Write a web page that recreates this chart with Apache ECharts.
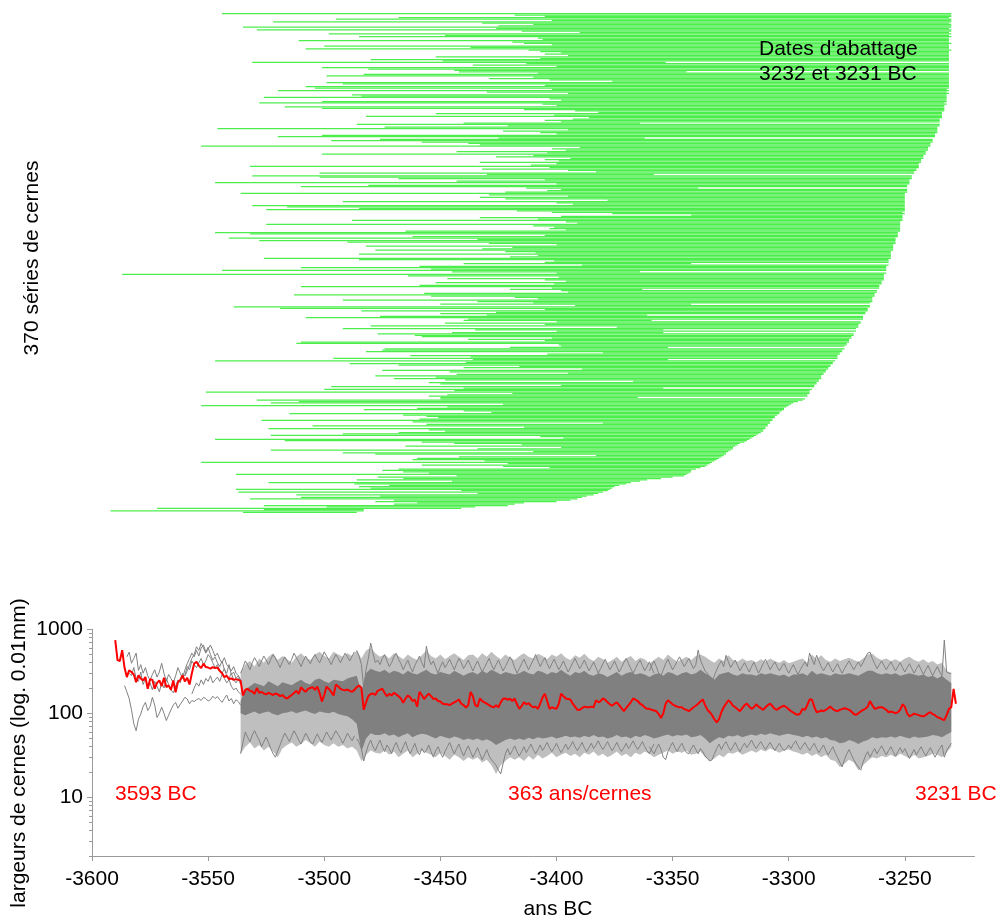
<!DOCTYPE html>
<html><head><meta charset="utf-8">
<script src="https://cdn.jsdelivr.net/npm/echarts@6/dist/echarts.min.js"></script>
<style>html,body{margin:0;padding:0;background:#fff}#c{width:1000px;height:920px}</style>
</head><body><div id="c"></div>
<script>
// ---------- tick labels ----------
const xTicks = [-3600,-3550,-3500,-3450,-3400,-3350,-3300,-3250];
const yTicks = [10,100,1000];
const yMinorTicks = [2,3,4,5,6,7,8,9,20,30,40,50,60,70,80,90,200,300,400,500,600,700,800,900];

// ---------- top panel: 370 ring series (first and last year, row 0 = top) ----------
const barStart = [
-3544,-3418,-3405,-3468,-3495,-3402,-3522,-3432,-3410,-3425,
-3535,-3426,-3529,-3415,-3390,-3498,-3448,-3485,-3408,-3406,
-3511,-3419,-3414,-3402,-3500,-3437,-3508,-3412,-3407,-3398,
-3405,-3395,-3452,-3407,-3480,-3449,-3531,-3413,-3436,-3400,
-3501,-3481,-3444,-3442,-3408,-3483,-3499,-3410,-3429,-3403,
-3376,-3499,-3492,-3405,-3508,-3504,-3402,-3520,-3430,-3395,
-3488,-3484,-3526,-3403,-3398,-3501,-3528,-3406,-3400,-3517,
-3501,-3414,-3392,-3382,-3452,-3401,-3482,-3386,-3393,-3405,
-3398,-3440,-3486,-3421,-3474,-3546,-3395,-3423,-3407,-3400,
-3501,-3520,-3425,-3476,-3497,-3458,-3438,-3433,-3553,-3390,
-3402,-3396,-3443,-3404,-3501,-3410,-3426,-3394,-3405,-3399,
-3433,-3400,-3411,-3532,-3403,-3432,-3395,-3383,-3502,-3430,
-3531,-3502,-3468,-3405,-3443,-3547,-3400,-3481,-3510,-3413,
-3398,-3404,-3422,-3536,-3429,-3395,-3433,-3422,-3378,-3492,
-3400,-3393,-3531,-3516,-3485,-3525,-3417,-3402,-3376,-3342,
-3398,-3433,-3408,-3488,-3396,-3391,-3525,-3410,-3401,-3403,
-3396,-3465,-3547,-3532,-3405,-3462,-3541,-3434,-3528,-3490,
-3429,-3400,-3482,-3419,-3432,-3478,-3422,-3409,-3485,-3408,
-3420,-3526,-3485,-3401,-3405,-3440,-3389,-3459,-3510,-3454,
-3544,-3445,-3400,-3587,-3464,-3399,-3447,-3405,-3396,-3452,
-3401,-3459,-3510,-3402,-3420,-3398,-3395,-3457,-3513,-3454,
-3418,-3408,-3492,-3434,-3410,-3450,-3392,-3539,-3519,-3405,
-3484,-3426,-3450,-3430,-3476,-3508,-3438,-3440,-3400,-3448,
-3405,-3480,-3374,-3492,-3435,-3400,-3445,-3477,-3461,-3458,
-3402,-3438,-3405,-3510,-3512,-3399,-3398,-3420,-3474,-3475,
-3482,-3380,-3404,-3463,-3437,-3496,-3436,-3547,-3439,-3489,
-3468,-3416,-3440,-3389,-3475,-3446,-3395,-3443,-3478,-3452,
-3470,-3448,-3367,-3455,-3450,-3398,-3497,-3440,-3500,-3444,
-3551,-3419,-3447,-3455,-3450,-3450,-3529,-3511,-3523,-3423,
-3553,-3447,-3460,-3483,-3440,-3428,-3515,-3466,-3456,-3451,
-3459,-3527,-3462,-3380,-3456,-3505,-3414,-3524,-3455,-3448,
-3468,-3492,-3523,-3407,-3397,-3547,-3517,-3458,-3444,-3415,
-3465,-3398,-3434,-3523,-3410,-3492,-3478,-3383,-3442,-3460,
-3462,-3431,-3553,-3421,-3458,-3423,-3403,-3468,-3475,-3466,
-3455,-3538,-3443,-3477,-3466,-3486,-3445,-3524,-3487,-3472,
-3485,-3480,-3538,-3441,-3537,-3434,-3512,-3476,-3510,-3532,
-3470,-3478,-3460,-3470,-3526,-3499,-3572,-3526,-3592,-3535];
const barEnd = [
-3230,-3230,-3230,-3231,-3230,-3230,-3230,-3231,-3230,-3230,
-3230,-3231,-3230,-3230,-3231,-3230,-3231,-3230,-3231,-3231,
-3231,-3231,-3230,-3231,-3231,-3231,-3231,-3230,-3231,-3231,
-3231,-3231,-3231,-3231,-3231,-3231,-3353,-3231,-3231,-3231,
-3231,-3231,-3231,-3344,-3231,-3231,-3231,-3231,-3231,-3231,
-3231,-3231,-3231,-3231,-3231,-3231,-3232,-3231,-3232,-3231,
-3232,-3232,-3232,-3232,-3232,-3232,-3233,-3232,-3233,-3233,
-3233,-3233,-3233,-3234,-3234,-3234,-3234,-3234,-3235,-3235,
-3235,-3364,-3235,-3235,-3236,-3236,-3236,-3236,-3236,-3237,
-3237,-3237,-3362,-3238,-3238,-3238,-3239,-3239,-3239,-3240,
-3240,-3240,-3241,-3241,-3241,-3242,-3242,-3242,-3243,-3243,
-3243,-3244,-3244,-3244,-3244,-3245,-3245,-3246,-3246,-3358,
-3247,-3247,-3247,-3248,-3248,-3248,-3248,-3249,-3249,-3339,
-3249,-3249,-3249,-3250,-3250,-3250,-3250,-3250,-3250,-3250,
-3250,-3250,-3250,-3250,-3250,-3250,-3250,-3251,-3250,-3251,
-3251,-3251,-3251,-3251,-3252,-3252,-3252,-3252,-3252,-3252,
-3252,-3252,-3253,-3253,-3253,-3253,-3254,-3254,-3254,-3254,
-3254,-3255,-3255,-3255,-3255,-3255,-3256,-3256,-3256,-3256,
-3256,-3256,-3257,-3257,-3257,-3342,-3257,-3258,-3258,-3258,
-3258,-3364,-3258,-3259,-3259,-3259,-3259,-3259,-3260,-3260,
-3260,-3261,-3261,-3261,-3363,-3262,-3262,-3263,-3263,-3263,
-3264,-3264,-3264,-3264,-3265,-3342,-3265,-3265,-3266,-3266,
-3266,-3267,-3267,-3361,-3268,-3268,-3268,-3359,-3269,-3269,
-3270,-3270,-3270,-3271,-3354,-3271,-3354,-3272,-3272,-3273,
-3273,-3274,-3274,-3274,-3275,-3275,-3276,-3352,-3276,-3277,
-3277,-3278,-3278,-3279,-3279,-3279,-3352,-3280,-3281,-3281,
-3282,-3282,-3283,-3283,-3284,-3284,-3285,-3285,-3286,-3286,
-3286,-3287,-3287,-3288,-3288,-3289,-3289,-3354,-3290,-3291,
-3291,-3291,-3292,-3292,-3365,-3293,-3294,-3296,-3298,-3299,
-3300,-3301,-3302,-3302,-3303,-3304,-3304,-3305,-3306,-3306,
-3307,-3307,-3308,-3308,-3309,-3309,-3310,-3310,-3311,-3311,
-3312,-3313,-3314,-3315,-3316,-3317,-3318,-3319,-3321,-3322,
-3323,-3324,-3324,-3325,-3326,-3327,-3327,-3328,-3329,-3330,
-3331,-3332,-3333,-3334,-3335,-3336,-3338,-3340,-3342,-3342,
-3343,-3344,-3345,-3350,-3355,-3361,-3364,-3368,-3370,-3373,
-3375,-3376,-3377,-3378,-3380,-3382,-3384,-3387,-3389,-3391,
-3394,-3400,-3414,-3418,-3421,-3435,-3441,-3483,-3483,-3486];

// ---------- bottom panel: mean curve (red), 363 years ----------
const meanStart = -3590;
const meanValues = [
745,430,420,565,350,270,324,310,290,235,
283,260,246,270,196,255,250,196,230,246,
210,265,205,215,190,246,178,235,250,283,
240,265,220,300,391,410,370,345,390,355,
350,340,355,345,350,320,300,270,280,255,
260,250,255,250,245,163,190,196,185,182,
170,200,175,180,172,168,175,170,165,172,
168,160,165,155,150,158,165,175,185,170,
204,190,180,195,200,205,190,208,175,138,
165,208,195,180,163,219,210,195,190,188,
192,185,180,190,205,214,200,110,135,160,
170,172,165,185,190,196,175,160,170,163,
175,168,160,150,133,150,163,155,140,145,
120,180,165,148,160,171,160,148,150,140,
138,130,128,128,125,130,135,140,146,130,
125,117,125,180,160,125,120,150,140,135,
130,125,120,118,125,118,135,149,150,145,
149,140,150,128,113,122,135,128,132,123,
118,120,113,130,155,171,140,113,118,115,
113,130,171,160,150,148,146,130,120,110,
110,115,120,118,118,120,118,143,135,140,
150,145,135,128,123,130,135,125,115,106,
115,125,135,150,145,140,130,125,118,113,
113,110,108,106,98,88,100,130,143,135,
128,123,120,118,118,112,110,106,112,118,
123,130,138,146,125,110,103,95,85,78,
85,103,118,130,143,135,123,118,112,106,
115,125,130,120,113,118,128,120,115,110,
118,125,130,122,113,110,116,120,123,118,
112,106,102,98,96,100,113,110,125,146,
146,120,103,105,108,106,110,115,120,112,
108,106,110,112,115,113,110,105,98,96,
100,105,110,113,120,140,125,113,115,118,
118,115,110,103,105,103,100,103,110,128,
120,100,92,95,99,97,95,93,92,95,
100,103,98,95,90,88,85,83,95,113,
118,195,130];

// ---------- bottom panel: grey bundle of series (every 2 years from -3536) ----------
const bandStart = -3536, bandStep = 2;
const outerHi = [
300,380,420,360,450,400,470,520,430,480,
440,400,470,520,460,430,500,540,480,450,
540,500,470,520,480,560,450,560,600,520,
470,500,450,520,480,440,500,460,430,490,
560,480,450,500,440,480,520,470,430,490,
500,450,520,470,540,480,440,500,460,430,
480,520,470,450,510,480,440,500,470,520,
460,430,490,460,510,450,420,470,440,400,
430,470,410,450,480,420,460,440,390,430,
470,430,500,450,410,440,470,430,480,500,
470,430,400,450,420,490,430,410,450,420,
430,405,440,410,450,420,400,430,394,410,
430,450,400,500,440,490,430,410,450,420,
440,460,430,410,450,500,510,460,430,450,
420,440,410,450,470,430,410,440,400,420,
380,400,320,300];
const outerLo = [
33,40,45,38,42,36,40,35,30,38,
42,45,40,43,48,44,40,46,42,40,
44,40,42,38,40,36,27,32,36,34,
33,36,32,35,30,33,36,30,33,36,
34,32,30,34,31,28,32,30,27,30,
28,30,26,28,24,19,24,27,30,28,
30,27,31,28,32,29,31,34,30,32,
34,31,33,30,34,32,35,31,33,30,
32,35,31,33,30,34,32,35,33,30,
32,34,36,33,35,34,36,32,33,35,
30,27,29,32,30,34,33,35,32,34,
36,34,37,35,38,36,34,36,37,35,
34,32,34,31,33,30,32,28,27,23,
25,28,26,21,24,27,30,29,31,30,
32,30,33,31,29,32,29,30,31,33,
32,30,34,40];
const coreHi = [
140,190,210,230,220,210,240,225,210,235,
225,215,235,250,230,220,250,260,240,230,
250,245,240,260,270,280,180,300,340,320,
310,330,300,320,310,290,320,300,290,310,
330,300,290,310,300,290,320,300,280,300,
310,290,320,300,330,310,290,310,300,290,
300,320,300,290,320,310,290,310,300,330,
300,280,310,300,320,290,280,300,290,270,
290,310,280,300,310,290,300,290,270,290,
300,280,310,300,280,300,310,290,300,330,
300,280,250,290,300,310,290,280,300,290,
290,280,300,290,300,290,280,290,270,290,
290,300,280,320,290,300,290,280,300,290,
290,300,290,280,300,320,320,300,290,300,
290,300,280,290,300,290,280,290,270,280,
260,280,250,230];
const coreLo = [
100,95,100,105,98,102,105,98,95,100,
102,106,100,104,108,102,98,105,102,100,
104,98,95,92,85,75,35,50,58,55,
55,58,54,56,52,55,58,52,55,57,
56,53,50,54,52,50,53,51,48,50,
48,50,47,49,46,42,45,48,50,48,
50,48,51,49,52,50,51,53,50,52,
54,52,53,51,54,52,55,52,53,50,
52,55,52,53,50,54,52,55,53,50,
52,54,56,53,55,54,56,52,53,55,
50,44,48,52,50,54,53,55,52,54,
56,54,57,55,58,56,54,56,57,55,
54,52,54,51,53,50,52,48,47,44,
45,48,46,43,46,48,52,50,52,51,
53,51,54,52,50,53,51,52,53,55,
54,52,56,60];

// individual grey series at the edges of the bundle (yearly)
const u1Start = -3486;
const u1 = [
560,480,380,200,330,450,685,520,400,430,
380,450,500,420,360,400,470,520,440,390,
330,380,430,360,310,370,420,480,400,350,
630,450,380,420,350,300,360,410,350,390,
440,380,330,390,450,400,340,380,430,370,
320,370,420,360,310,350,400,450,380,330,
380,430,370,320,360,410,470,420,350,300,
340,390,440,380,330,380,430,500,420,360,
410,460,390,340,390,440,380,330,370,420,
360,310,350,400,450,390,340,380,430,370,
320,360,410,350,300,340,390,440,380,330,
370,420,360,310,350,400,450,390,340,300,
340,390,430,370,320,360,410,350,300];
const l1Start = -3486;
const l1 = [
50,45,38,27,34,42,48,40,36,42,
48,40,35,42,38,33,40,45,38,34,
40,46,38,33,38,44,36,32,38,34,
36,42,35,30,36,40,34,30,35,40,
45,38,33,38,43,36,31,36,41,35,
30,34,39,33,28,32,37,31,28,26,
24,21,19,25,33,38,32,36,41,35,
31,35,40,34,38,43,37,33,37,42,
36,40,45,39,35,39,44,38,34,38,
43,37,41,46,40,36,40,45,39,35,
39,44,38,42,47,41,37,41,46,40,
36,40,45,39,35,39,44,38,42,47,
41,37,41,46,40,36,33,38,43];
const u2Start = -3360;
const u2 = [
320,370,420,360,300,280,330,390,440,380,
330,370,420,470,410,360,400,450,390,340,
380,565,430,370,320,300,260,240,280,330,
380,420,360,490,410,350,390,430,370,320,
360,400,350,310,360,405,350,300,340,390,
440,380,330,370,410,360,320,360,394,340,
300,340,380,330,290,330,370,410,360,520,
440,380,490,420,360,320,360,400,350,310,
350,390,340,300,340,380,420,370,330,370,
410,360,400,460,520,535,450,390,340,380,
420,370,330,370,410,360,320,360,400,350,
310,350,390,340,300,340,380,330,290,330,
370,320,280,320,360,310,280,745,310,300,
300];
const l2Start = -3360;
const l2 = [
40,36,33,38,43,37,30,28,35,40,
45,39,35,40,44,38,34,33,38,42,
37,33,38,35,31,29,27,28,33,38,
43,37,42,46,40,36,40,45,39,35,
40,44,39,43,48,42,38,42,46,41,
37,41,45,40,36,40,44,39,36,38,
42,38,43,47,41,37,41,45,40,36,
40,44,38,34,38,42,36,32,36,40,
34,30,26,23,28,33,37,32,28,25,
23,21,26,31,35,30,34,38,33,37,
41,36,32,36,40,35,31,35,39,34,
38,33,29,33,37,32,36,40,35,31,
35,39,34,30,34,38,42,30,36,40,
44];
const m1Start = -3536;
const m1 = [
300,350,420,380,330,400,460,410,360,420,
480,430,380,440,500,450,400,350,410,470,
420,380,440,520,460,410,360,420,480,430,
390,450,500,440,400,460,540,480,430,380,
440,500,450,400,460,520,470,420,480,540];
const m2Start = -3536;
const m2 = [
33,45,60,52,46,55,62,54,48,40,
46,52,45,38,33,30,36,42,50,58,
52,46,54,62,55,48,43,50,58,52,
46,43,50,57,50,45,52,60,54,48,
55,62,56,50,44,50,58,52,47,54];
// the few oldest series
const e1Start = -3586;
const e1 = [
214,180,150,110,75,62,85,98,120,135,
108,120,155,125,89,100,118,100,82,95,
110,125,135,115,128,140,155,148,130,142,
138,145,150,142,155,150,140,145,160,150,
158,145,135,150,165,140,150,130,145,138,
125];
const e2Start = -3585;
const e2 = [
470,534,394,450,520,324,380,300,350,280,
246,290,330,270,310,394,300,240,290,260,
230,280,350,300,260,330,390,450,520,470,
560,480,600,650,540,610,500,430,470,400,
360,420,330,300,380,290,310,260,280,240];
const e3Start = -3584;
const e3 = [
300,280,350,260,240,310,220,260,200,230,
190,240,210,180,230,200,260,220,190,175,
210,250,230,300,280,360,330,420,380,350,
400,450,380,420,500,460,400,350,380,330,
300,340,280,260,300,250,230,260,220];
const e4Start = -3560;
const e4 = [
280,320,380,450,500,620,560,680,600,520,
580,650,560,480,520,440,400,460,380,350,
320,360,300,280,250];
const e5Start = -3557;
const e5 = [
170,200,230,210,250,220,260,240,280,230,
250,270,240,290,260,230,250,210,190,200,
180,170];

// ---------- build chart ----------
const FONT = '"Liberation Sans", Arial, sans-serif';
const GRAY = '#808080';
const GREEN = '#4cee4c';
const AXIS = '#9a9a9a';
const pairs = (start, step, arr) => arr.map((v, i) => [start + i * step, v]);

function grayLine(start, arr) {
  return { type: 'line', xAxisIndex: 1, yAxisIndex: 1, data: pairs(start, 1, arr),
    symbol: 'none', lineStyle: { color: GRAY, width: 1 }, z: 2, silent: true };
}
// filled envelope between two curves, drawn as one polygon through the axes' scales
function band(hi, lo, opacity, z) {
  const rows = hi.map((v, i) => [bandStart + i * bandStep, v, lo[i]]);
  return {
    type: 'custom', xAxisIndex: 1, yAxisIndex: 1, z: z, silent: true,
    data: rows, encode: { x: 0, y: [1, 2] },
    renderItem: function (params, api) {
      if (params.dataIndex !== 0) return null;
      const pts = [];
      for (let i = 0; i < rows.length; i++) pts.push(api.coord([rows[i][0], rows[i][1]]));
      for (let i = rows.length - 1; i >= 0; i--) pts.push(api.coord([rows[i][0], rows[i][2]]));
      return { type: 'polygon', shape: { points: pts }, style: { fill: GRAY, opacity: opacity } };
    }
  };
}

const chart = echarts.init(document.getElementById('c'), null, { renderer: 'canvas' });
const txt = (x, y, text, color, align, rot) => ({
  type: 'text', x: x, y: y, rotation: rot || 0, silent: true, z: 100,
  style: { text: text, fontSize: 21, fontFamily: FONT, fill: color, align: align, verticalAlign: 'middle' }
});

chart.setOption({
  animation: false,
  textStyle: { fontFamily: FONT },
  grid: [
    { left: 92, right: 25.5, top: 13, height: 500, outerBoundsMode: 'none' },
    { left: 92, right: 25.5, top: 629.3, height: 226.7, outerBoundsMode: 'none' }
  ],
  xAxis: [
    { gridIndex: 0, type: 'value', min: -3600, max: -3220, show: false },
    { gridIndex: 1, type: 'value', min: -3600, max: -3220, interval: 50,
      axisLine: { show: true, lineStyle: { color: AXIS, width: 1 } },
      axisTick: { show: true, length: 5, lineStyle: { color: AXIS }, customValues: xTicks },
      axisLabel: { show: true, customValues: xTicks, fontSize: 21, color: '#000', margin: 13,
        fontFamily: FONT, formatter: v => String(Math.round(v)) },
      splitLine: { show: false } }
  ],
  yAxis: [
    { gridIndex: 0, type: 'value', min: -0.5, max: 369.5, inverse: true, show: false },
    { gridIndex: 1, type: 'log', logBase: 10, min: 2, max: 1000, position: 'left',
      axisLine: { show: true, lineStyle: { color: AXIS, width: 1 } },
      axisTick: { show: true, length: 5, lineStyle: { color: AXIS }, customValues: yTicks },
      axisLabel: { show: true, customValues: yTicks, fontSize: 21, color: '#000', margin: 9,
        fontFamily: FONT, formatter: v => String(Math.round(v)) },
      splitLine: { show: false }, minorTick: { show: false } },
    { gridIndex: 1, type: 'log', logBase: 10, min: 2, max: 1000, position: 'left',
      axisLine: { show: false },
      axisTick: { show: true, length: 3, lineStyle: { color: AXIS }, customValues: yMinorTicks },
      axisLabel: { show: false }, splitLine: { show: false } }
  ],
  graphic: [
    txt(32, 258, '370 séries de cernes', '#000', 'center', Math.PI / 2),
    txt(19, 753, 'largeurs de cernes (log. 0.01mm)', '#000', 'center', Math.PI / 2),
    txt(558, 909, 'ans BC', '#000', 'center'),
    txt(759, 49, 'Dates d\u2018abattage', '#000', 'left'),
    txt(759, 74, '3232 et 3231 BC', '#000', 'left'),
    txt(115, 794, '3593 BC', '#ff0000', 'left'),
    txt(508, 794, '363 ans/cernes', '#ff0000', 'left'),
    txt(915, 794, '3231 BC', '#ff0000', 'left')
  ],
  series: [
    {
      type: 'custom', xAxisIndex: 0, yAxisIndex: 0, silent: true, z: 1,
      data: barStart.map((s, i) => [s, barEnd[i], i]),
      encode: { x: [0, 1], y: 2 },
      renderItem: function (params, api) {
        const a = api.coord([api.value(0), api.value(2)]);
        const b = api.coord([api.value(1), api.value(2)]);
        return { type: 'line', shape: { x1: a[0], y1: a[1], x2: b[0], y2: b[1] },
          style: { stroke: GREEN, lineWidth: 1.25 } };
      }
    },
    band(outerHi, outerLo, 0.5, 1),
    grayLine(u1Start, u1), grayLine(l1Start, l1), grayLine(u2Start, u2), grayLine(l2Start, l2),
    grayLine(m1Start, m1), grayLine(m2Start, m2),
    grayLine(e1Start, e1), grayLine(e2Start, e2), grayLine(e3Start, e3), grayLine(e4Start, e4), grayLine(e5Start, e5),
    band(coreHi, coreLo, 1, 3),
    { type: 'line', xAxisIndex: 1, yAxisIndex: 1, data: pairs(meanStart, 1, meanValues),
      symbol: 'none', lineStyle: { color: '#ff0000', width: 2 }, z: 5, silent: true }
  ]
});
</script>
</body></html>
